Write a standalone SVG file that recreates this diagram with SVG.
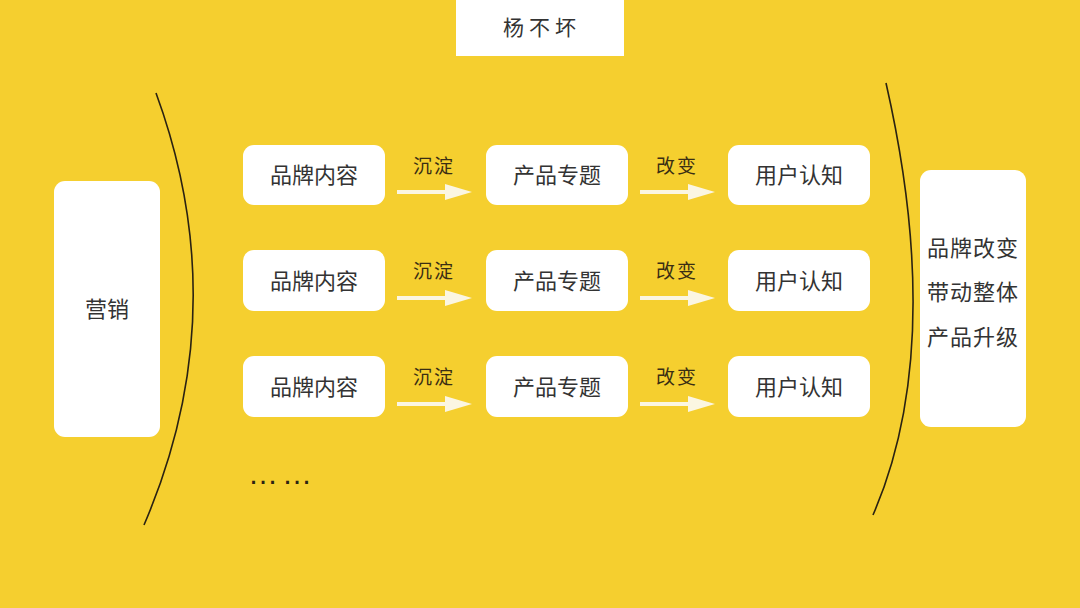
<svg xmlns="http://www.w3.org/2000/svg" width="1080" height="608" viewBox="0 0 1080 608">
<defs>
<style>
.box{fill:#ffffff;}
.t{font-family:"Noto Sans CJK SC","Liberation Sans",sans-serif;fill:#333333;text-anchor:middle;dominant-baseline:central;}
.n{font-size:22px;}
.lbl{font-size:19px;fill:#3a2e14;}
.arrow{fill:#fbf6e2;}
.curve{fill:none;stroke:#2a2212;stroke-width:1.6;}
</style>
</defs>
<rect x="0" y="0" width="1080" height="608" fill="#f5cf2f"/>
<g id="title">
<rect class="box" x="456" y="0" width="168" height="56"/>
<text class="t" x="542" y="26" font-size="21" letter-spacing="5">杨不坏</text>
</g>
<g id="marketing">
<rect class="box" x="54" y="181" width="106" height="256" rx="11"/>
<text class="t n" x="107" y="307">营销</text>
</g>
<g id="result">
<rect class="box" x="920" y="170" width="106" height="257" rx="11"/>
<text class="t n" x="973" y="246" letter-spacing="1">品牌改变</text>
<text class="t n" x="973" y="290" letter-spacing="1">带动整体</text>
<text class="t n" x="973" y="335" letter-spacing="1">产品升级</text>
</g>
<g id="row1-brand"><rect class="box" x="243" y="145" width="142" height="60" rx="11"/><text class="t n" x="314" y="173">品牌内容</text></g>
<g id="row1-topic"><rect class="box" x="486" y="145" width="142" height="60" rx="11"/><text class="t n" x="557" y="173">产品专题</text></g>
<g id="row1-user"><rect class="box" x="728" y="145" width="142" height="60" rx="11"/><text class="t n" x="799" y="173">用户认知</text></g>
<g id="row2-brand"><rect class="box" x="243" y="250" width="142" height="61" rx="11"/><text class="t n" x="314" y="279">品牌内容</text></g>
<g id="row2-topic"><rect class="box" x="486" y="250" width="142" height="61" rx="11"/><text class="t n" x="557" y="279">产品专题</text></g>
<g id="row2-user"><rect class="box" x="728" y="250" width="142" height="61" rx="11"/><text class="t n" x="799" y="279">用户认知</text></g>
<g id="row3-brand"><rect class="box" x="243" y="356" width="142" height="61" rx="11"/><text class="t n" x="314" y="385">品牌内容</text></g>
<g id="row3-topic"><rect class="box" x="486" y="356" width="142" height="61" rx="11"/><text class="t n" x="557" y="385">产品专题</text></g>
<g id="row3-user"><rect class="box" x="728" y="356" width="142" height="61" rx="11"/><text class="t n" x="799" y="385">用户认知</text></g>
<g id="more"><text x="248" y="484" font-family="Liberation Sans, sans-serif" font-size="30" letter-spacing="4" fill="#2a2212">……</text></g>
<g id="connectors">
<path class="curve" d="M156 93 Q236 311 144 525"/>
<path class="curve" d="M886 83 Q946 347 873 515"/>
<path class="arrow" d="M397 190 L445 190 L445 184 L472 192 L445 200 L445 194 L397 194 Z"/>
<path class="arrow" d="M640 190 L688 190 L688 184 L715 192 L688 200 L688 194 L640 194 Z"/>
<path class="arrow" d="M397 296 L445 296 L445 290 L472 298 L445 306 L445 300 L397 300 Z"/>
<path class="arrow" d="M640 296 L688 296 L688 290 L715 298 L688 306 L688 300 L640 300 Z"/>
<path class="arrow" d="M397 402 L445 402 L445 396 L472 404 L445 412 L445 406 L397 406 Z"/>
<path class="arrow" d="M640 402 L688 402 L688 396 L715 404 L688 412 L688 406 L640 406 Z"/>
<text class="t lbl" x="434" y="164" letter-spacing="2">沉淀</text>
<text class="t lbl" x="677" y="164" letter-spacing="2">改变</text>
<text class="t lbl" x="434" y="269" letter-spacing="2">沉淀</text>
<text class="t lbl" x="677" y="269" letter-spacing="2">改变</text>
<text class="t lbl" x="434" y="375" letter-spacing="2">沉淀</text>
<text class="t lbl" x="677" y="375" letter-spacing="2">改变</text>
</g>
</svg>
